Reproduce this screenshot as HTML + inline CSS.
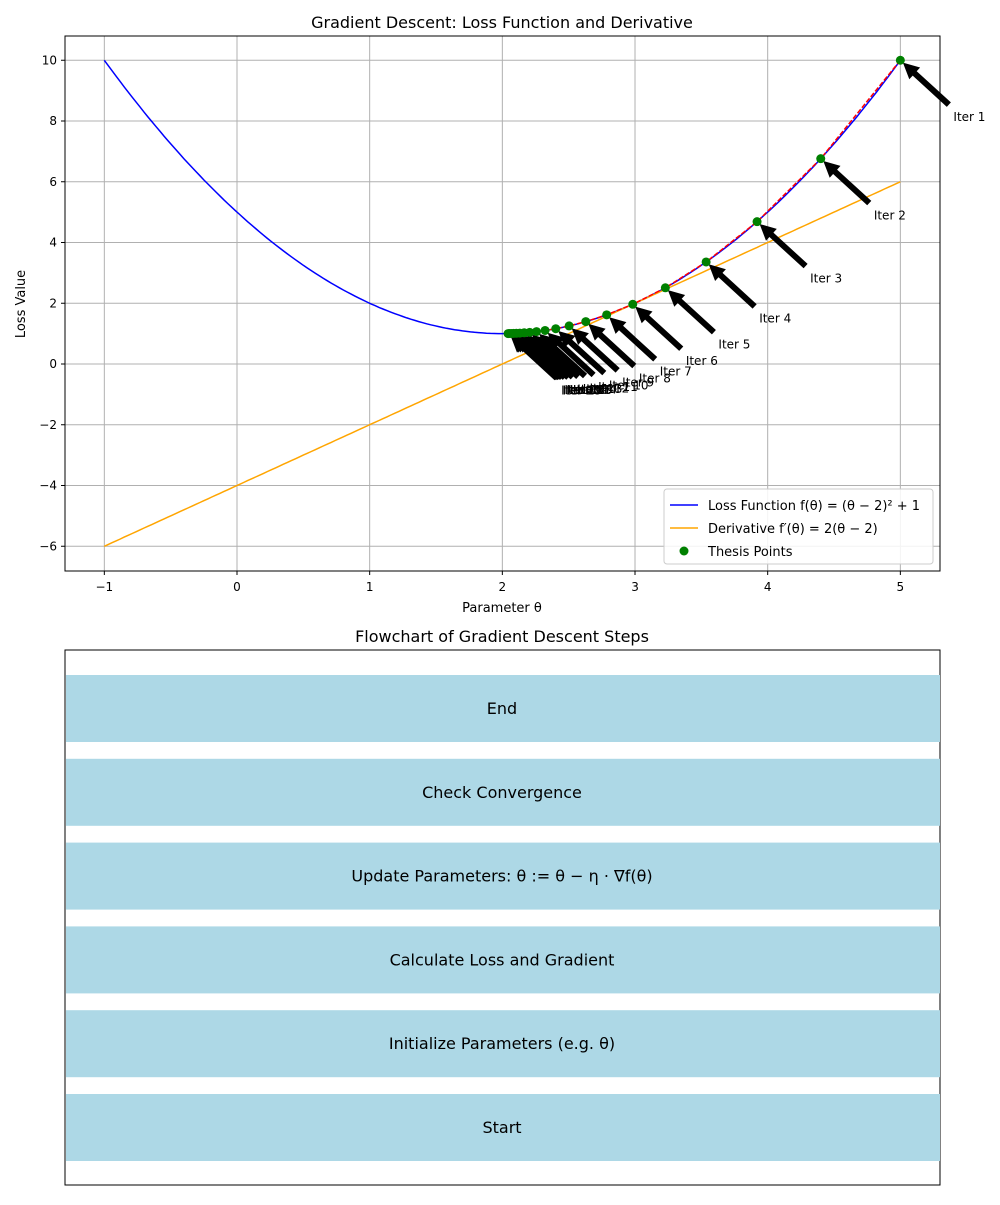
<!DOCTYPE html>
<html><head><meta charset="utf-8"><style>
body{margin:0;background:#fff;font-family:"Liberation Sans","DejaVu Sans",sans-serif;}
svg text{font-family:"DejaVu Sans","Liberation Sans",sans-serif;}
</style></head><body>
<svg id="s" width="1000" height="1200" xmlns="http://www.w3.org/2000/svg"></svg>
<script>
const thetaPoints=[5,4.4,3.92,3.536,3.2288,2.983,2.7864,2.6291,2.5033,2.4027,2.3221,2.2577,2.2062,2.1649,2.1319,2.1056,2.0844,2.0676,2.054,2.0432];
const xTicks=[-1,0,1,2,3,4,5];
const yTicks=[-6,-4,-2,0,2,4,6,8,10];
const flowSteps=["Start","Initialize Parameters (e.g. θ)","Calculate Loss and Gradient","Update Parameters: θ := θ − η · ∇f(θ)","Check Convergence","End"];
const NS="http://www.w3.org/2000/svg";
const svg=document.getElementById('s');
function el(t,a,p){const e=document.createElementNS(NS,t);for(const k in a)e.setAttribute(k,a[k]);(p||svg).appendChild(e);return e;}
const L=65,R=940,T=36,B=571;
const X=v=>237+(v)*132.67, Y=v=>364-v*30.375;
const f=t=>(t-2)*(t-2)+1, d=t=>2*(t-2);
// grid
xTicks.forEach(v=>{let g=el('line',{x1:X(v),x2:X(v),y1:T,y2:B,stroke:'#b0b0b0','stroke-width':1});
let t=el('text',{x:X(v),y:B+20,'text-anchor':'middle','font-size':12});t.textContent=(v<0?'−':'')+Math.abs(v);
el('line',{x1:X(v),x2:X(v),y1:B,y2:B+4,stroke:'#000'});});
yTicks.forEach(v=>{let g=el('line',{x1:L,x2:R,y1:Y(v),y2:Y(v),stroke:'#b0b0b0','stroke-width':1});
let t=el('text',{x:L-8,y:Y(v)+4,'text-anchor':'end','font-size':12});t.textContent=(v<0?'−':'')+Math.abs(v);
el('line',{x1:L-4,x2:L,y1:Y(v),y2:Y(v),stroke:'#000'});});
// curves
let lp='',dp='';for(let i=0;i<=200;i++){const t=-1+6*i/200;lp+=(i?'L':'M')+X(t).toFixed(1)+','+Y(f(t)).toFixed(1);dp+=(i?'L':'M')+X(t).toFixed(1)+','+Y(d(t)).toFixed(1);}
let c1=el('path',{d:lp,fill:'none',stroke:'blue','stroke-width':1.5});
let c2=el('path',{d:dp,fill:'none',stroke:'orange','stroke-width':1.5});
let rp=thetaPoints.map((t,i)=>(i?'L':'M')+X(t).toFixed(1)+','+Y(f(t)).toFixed(1)).join('');
let rl=el('path',{d:rp,fill:'none',stroke:'red','stroke-width':1.5,'stroke-dasharray':'5,2'});
// arrows + labels
const ann=el('g',{});
thetaPoints.forEach((t,i)=>{
 const px=X(t),py=Y(f(t)),tx=X(t+0.4),ty=Y(f(t)-2);
 const sx=tx-2,sy=ty-14;
 let dx=px-sx,dy=py-sy,len=Math.hypot(dx,dy),ux=dx/len,uy=dy/len,nx=-uy,ny=ux;
 const a0x=sx+ux*len*0.05,a0y=sy+uy*len*0.05,hx=px-ux*len*0.05,hy=py-uy*len*0.05;
 const hl=Math.min(16,len*0.9),w=3,hw=8;
 const bx=hx-ux*hl,by=hy-uy*hl;
 const pts=[[a0x+nx*w,a0y+ny*w],[bx+nx*w,by+ny*w],[bx+nx*hw,by+ny*hw],[hx,hy],[bx-nx*hw,by-ny*hw],[bx-nx*w,by-ny*w],[a0x-nx*w,a0y-ny*w]];
 let a=el('polygon',{points:pts.map(p=>p.map(v=>v.toFixed(1)).join(',')).join(' '),fill:'#000'},ann);
 
 let tt=el('text',{x:tx,y:ty,'font-size':12},ann);tt.textContent='Iter '+(i+1);
 
});
thetaPoints.forEach(t=>{let c=el('circle',{cx:X(t),cy:Y(f(t)),r:4.5,fill:'green'});});
// frame
let fr=el('rect',{x:L,y:T,width:R-L,height:B-T,fill:'none',stroke:'#000'});
let ti=el('text',{x:502,y:28,'text-anchor':'middle','font-size':16});ti.textContent='Gradient Descent: Loss Function and Derivative';
let xl=el('text',{x:502,y:612,'text-anchor':'middle','font-size':13});xl.textContent='Parameter θ';
let yl=el('text',{x:25,y:304,'text-anchor':'middle','font-size':13,transform:'rotate(-90 25 304)'});yl.textContent='Loss Value';
// legend
const lg=el('g',{});
el('rect',{x:664,y:489,width:269,height:75,rx:3,fill:'#fff','fill-opacity':0.85,stroke:'#ccc'},lg);
[['Loss Function f(θ) = (θ − 2)² + 1','blue'],['Derivative f′(θ) = 2(θ − 2)','orange'],['Thesis Points','green']].forEach((e,i)=>{
 const y=505+i*23;
 if(i<2)el('line',{x1:670,x2:698,y1:y,y2:y,stroke:e[1],'stroke-width':1.5},lg);else el('circle',{cx:684,cy:y,r:4.5,fill:'green'},lg);
 let t=el('text',{x:708,y:y+5,'font-size':13},lg);t.textContent=e[0];
});
// flowchart
let ft=el('text',{x:502,y:642,'text-anchor':'middle','font-size':16});ft.textContent='Flowchart of Gradient Descent Steps';
let ff=el('rect',{x:65,y:650,width:875,height:535,fill:'none',stroke:'#000'});
flowSteps.forEach((s,i)=>{const top=1094-i*83.8;
 let r=el('rect',{x:66,y:top,width:874,height:67,fill:'#add8e6'});
 let t=el('text',{x:502,y:top+39,'text-anchor':'middle','font-size':16});t.textContent=s;
});
</script>
</body></html>
